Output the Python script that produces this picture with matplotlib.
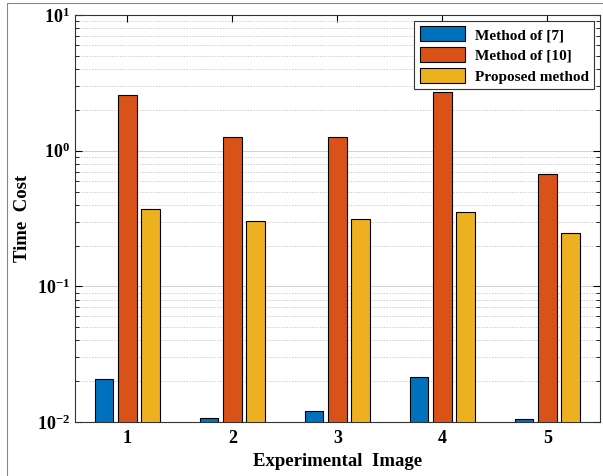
import numpy as np
import matplotlib
matplotlib.use('Agg')
import matplotlib.pyplot as plt
from matplotlib.patches import Rectangle

images = [1, 2, 3, 4, 5]
method_7 = [0.0207, 0.0107, 0.0121, 0.0215, 0.0105]
method_10 = [2.59, 1.27, 1.27, 2.72, 0.676]
proposed = [0.369, 0.301, 0.312, 0.351, 0.246]
labels = ['Method of [7]', 'Method of [10]', 'Proposed method']

plt.rcParams['font.family'] = ['Liberation Serif', 'DejaVu Serif']
plt.rcParams['font.weight'] = 'bold'
plt.rcParams['mathtext.fontset'] = 'custom'
plt.rcParams['mathtext.rm'] = 'Liberation Serif:bold'
plt.rcParams['mathtext.it'] = 'Liberation Serif:bold'
plt.rcParams['mathtext.bf'] = 'Liberation Serif:bold'
plt.rcParams['mathtext.default'] = 'bf'

fig = plt.figure(figsize=(6.03, 4.76), dpi=100)
ax = fig.add_axes([0.124, 0.1134, 0.871, 0.855])

x = np.array(images)
w = 0.178
off = 0.222
colors = ['#0072BD', '#D95319', '#EDB120']
for i, (vals, c, lab) in enumerate(zip([method_7, method_10, proposed], colors, labels)):
    ax.bar(x + (i - 1) * off, vals, width=w, color=c, edgecolor='black',
           linewidth=0.8, label=lab, zorder=3)

ax.set_yscale('log')
ax.set_ylim(1e-2, 10)
ax.set_xlim(0.5, 5.5)
ax.set_xticks(images)
ax.set_xticklabels([str(i) for i in images])
ax.grid(True, which='major', axis='y', color='#d0d0d0', linewidth=0.7, zorder=0)
ax.grid(True, which='minor', axis='y', color='#bbbbbb', linestyle=(0, (2, 2)), linewidth=0.5, zorder=0)
ax.tick_params(which='both', direction='in', top=True, right=True, labelsize=13)
ax.tick_params(axis='x', pad=6)
ax.tick_params(which='major', length=5)
ax.tick_params(which='minor', length=3)
ax.tick_params(axis='x', which='minor', top=False, bottom=False)
for s in ax.spines.values():
    s.set_color('#333333')
    s.set_linewidth(0.8)

ax.set_xlabel('Experimental  Image', fontsize=13.5, fontweight='bold', labelpad=4)
ax.set_ylabel('Time  Cost', fontsize=13.5, fontweight='bold', labelpad=4)

leg = ax.legend(loc='upper right', fontsize=11, frameon=True, fancybox=False,
                edgecolor='#333333', handlelength=3.0, handleheight=1.1,
                borderaxespad=0.4, labelspacing=0.35, handletextpad=0.6,
                borderpad=0.35)
leg.get_frame().set_linewidth(0.8)
leg.get_frame().set_alpha(1)

# outer figure border
fig.patches.append(Rectangle((0.011, -0.01), 1.0, 1.004, transform=fig.transFigure,
                             fill=False, edgecolor='#888888', linewidth=0.8))

fig.savefig('out.png', dpi=100)
